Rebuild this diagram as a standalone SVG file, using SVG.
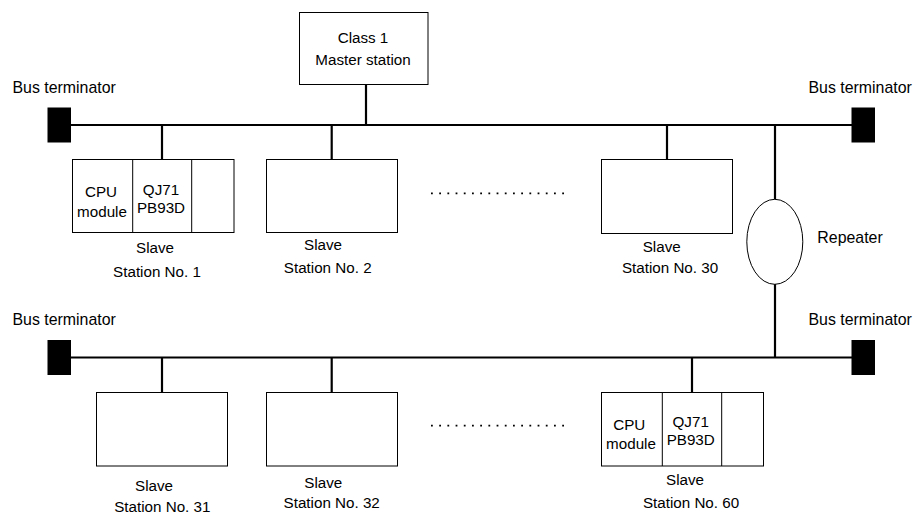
<svg xmlns="http://www.w3.org/2000/svg" width="923" height="513" viewBox="0 0 923 513">
<style>
text{font-family:"Liberation Sans",Arial,sans-serif;font-size:15.2px;fill:#000;text-anchor:middle}
.big{font-size:15.9px}
.box{fill:#fff;stroke:#000;stroke-width:1}
.bus{stroke:#000;stroke-width:2.2;fill:none}
.term{fill:#000}
.dots{stroke:#000;stroke-width:1.8;stroke-dasharray:1.8 6.4;fill:none}
.l{text-anchor:start}
</style>
<rect width="923" height="513" fill="#fff"/>
<g id="connectors">
<line class="bus" x1="71" y1="125" x2="852" y2="125"/>
<line class="bus" x1="71" y1="357.5" x2="852" y2="357.5"/>
<line class="bus" x1="366" y1="84" x2="366" y2="125"/>
<line class="bus" x1="162" y1="125" x2="162" y2="160"/>
<line class="bus" x1="331.7" y1="125" x2="331.7" y2="160"/>
<line class="bus" x1="667" y1="125" x2="667" y2="160"/>
<line class="bus" x1="775" y1="125" x2="775" y2="199.5"/>
<line class="bus" x1="775" y1="284" x2="775" y2="357.5"/>
<line class="bus" x1="162" y1="357.5" x2="162" y2="392.5"/>
<line class="bus" x1="331.7" y1="357.5" x2="331.7" y2="392.5"/>
<line class="bus" x1="692" y1="357.5" x2="692" y2="392.5"/>
<line class="dots" x1="431" y1="193.3" x2="565" y2="193.3"/>
<line class="dots" x1="431" y1="425.7" x2="565" y2="425.7"/>
</g>
<g id="master">
<rect class="box" x="299.5" y="12.5" width="128.5" height="72"/>
<text x="363" y="43">Class 1</text>
<text x="363" y="65">Master station</text>
</g>
<g id="term1">
<text class="l big" x="12.5" y="93">Bus terminator</text>
<rect class="term" x="47.5" y="107.5" width="23.5" height="35"/>
</g>
<g id="term2">
<text class="l big" x="808.5" y="93">Bus terminator</text>
<rect class="term" x="851.5" y="107.5" width="23.5" height="35"/>
</g>
<g id="term3">
<text class="l big" x="12.5" y="325">Bus terminator</text>
<rect class="term" x="47.5" y="340" width="23.5" height="35"/>
</g>
<g id="term4">
<text class="l big" x="808.5" y="325">Bus terminator</text>
<rect class="term" x="851.5" y="340" width="23.5" height="35"/>
</g>
<g id="slave1">
<rect class="box" x="72.5" y="159.5" width="161.5" height="73"/>
<line class="box" x1="132.7" y1="159.5" x2="132.7" y2="232.5"/>
<line class="box" x1="191.7" y1="159.5" x2="191.7" y2="232.5"/>
<text x="101" y="197">CPU</text>
<text x="102" y="217">module</text>
<text x="161" y="195">QJ71</text>
<text x="161" y="213">PB93D</text>
<text x="155" y="253">Slave</text>
<text x="157" y="276.5">Station No. 1</text>
</g>
<g id="slave2">
<rect class="box" x="266.5" y="159.5" width="131" height="73"/>
<text x="323" y="250">Slave</text>
<text x="327.7" y="272.7">Station No. 2</text>
</g>
<g id="slave30">
<rect class="box" x="601.5" y="159.5" width="131" height="74"/>
<text x="661.7" y="251.7">Slave</text>
<text x="670" y="273.3">Station No. 30</text>
</g>
<g id="repeater">
<ellipse class="box" cx="774.8" cy="241.8" rx="28" ry="42.5"/>
<text class="big" x="850" y="242.7">Repeater</text>
</g>
<g id="slave31">
<rect class="box" x="96.5" y="392.5" width="131" height="73.5"/>
<text x="154" y="490.7">Slave</text>
<text x="162.3" y="511.7">Station No. 31</text>
</g>
<g id="slave32">
<rect class="box" x="266.5" y="392.5" width="131" height="73.5"/>
<text x="323.3" y="487.7">Slave</text>
<text x="331.7" y="508.3">Station No. 32</text>
</g>
<g id="slave60">
<rect class="box" x="601.5" y="392.5" width="162" height="73.5"/>
<line class="box" x1="662.3" y1="392.5" x2="662.3" y2="466"/>
<line class="box" x1="721.7" y1="392.5" x2="721.7" y2="466"/>
<text x="629.3" y="430">CPU</text>
<text x="631" y="449.3">module</text>
<text x="690.7" y="426.7">QJ71</text>
<text x="690.7" y="445">PB93D</text>
<text x="685" y="485">Slave</text>
<text x="691" y="508.3">Station No. 60</text>
</g>
</svg>
